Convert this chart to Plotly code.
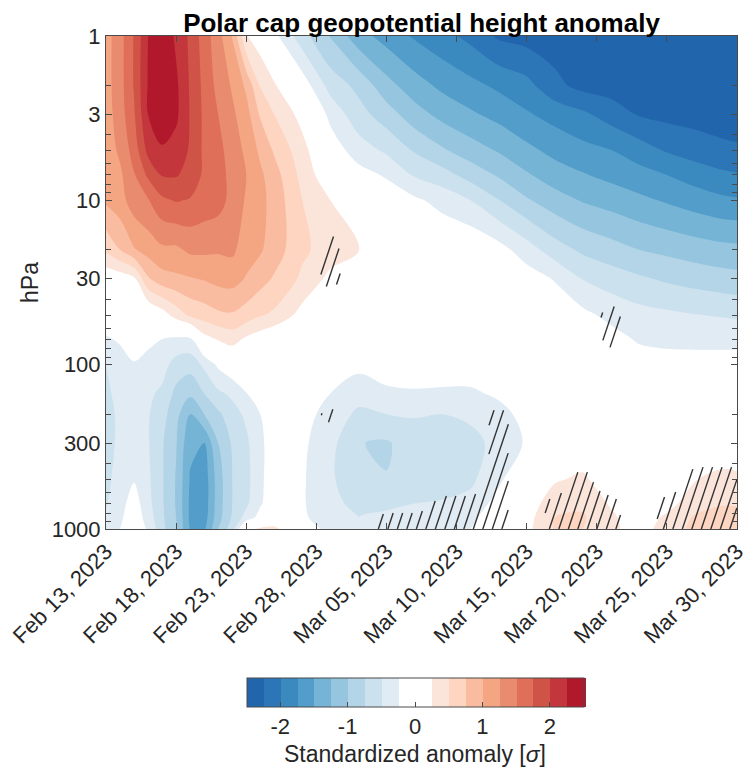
import numpy as np
import plotly.graph_objects as go
from datetime import datetime, timedelta

# ---------------- data ----------------
start_date = datetime(2023, 2, 13)
day_offsets = [0, 1, 2, 3, 4, 5, 6, 7, 8, 9, 10, 11, 12, 14, 16, 18, 20, 22,
               24, 26, 28, 30, 32, 34, 36, 38, 40, 42, 44, 45]
pressure_hpa = [1, 2, 3, 5, 7, 10, 20, 30, 50, 70, 100, 150, 200, 300, 500, 700, 850, 1000]

# standardized anomaly per day, listed from 1 hPa down to 1000 hPa
feb13 = [1.15, 1.15, 1.13, 1.10, 1.07, 1.05, 0.55, 0.05, -0.10, -0.28, -0.50, -0.55, -0.58, -0.58, -0.56, -0.52, -0.45, -0.40]
feb14 = [1.40, 1.40, 1.38, 1.30, 1.20, 1.15, 0.75, 0.10, -0.08, -0.22, -0.35, -0.42, -0.45, -0.45, -0.40, -0.35, -0.30, -0.25]
feb15 = [1.77, 1.77, 1.72, 1.60, 1.48, 1.38, 0.98, 0.20, 0.00, -0.12, -0.27, -0.35, -0.42, -0.40, -0.27, -0.12, -0.08, -0.08]
feb16 = [2.25, 2.27, 2.25, 2.07, 1.80, 1.48, 1.10, 0.72, -0.05, -0.20, -0.32, -0.45, -0.48, -0.48, -0.45, -0.42, -0.36, -0.28]
feb17 = [2.45, 2.45, 2.40, 2.22, 2.02, 1.70, 1.20, 0.90, 0.12, -0.25, -0.40, -0.55, -0.65, -0.72, -0.72, -0.72, -0.70, -0.68]
feb18 = [2.20, 2.30, 2.30, 2.15, 2.02, 1.77, 1.20, 0.95, 0.35, -0.30, -0.60, -0.82, -0.92, -0.98, -1.02, -1.02, -1.00, -0.98]
feb19 = [1.95, 1.97, 1.98, 1.97, 1.92, 1.73, 1.30, 0.98, 0.55, -0.30, -0.65, -0.95, -1.25, -1.45, -1.52, -1.55, -1.55, -1.52]
feb20 = [1.63, 1.68, 1.70, 1.70, 1.70, 1.65, 1.30, 1.02, 0.62, 0.15, -0.45, -0.75, -1.00, -1.50, -1.65, -1.65, -1.62, -1.55]
feb21 = [1.35, 1.42, 1.50, 1.58, 1.60, 1.60, 1.28, 1.08, 0.70, 0.27, -0.20, -0.55, -0.80, -1.00, -1.12, -1.12, -1.10, -1.00]
feb22 = [0.98, 1.22, 1.30, 1.38, 1.42, 1.42, 1.30, 1.10, 0.72, 0.35, -0.05, -0.45, -0.60, -0.72, -0.75, -0.75, -0.72, -0.60]
feb23 = [0.27, 0.95, 1.10, 1.20, 1.25, 1.22, 1.12, 0.98, 0.63, 0.20, -0.05, -0.26, -0.45, -0.55, -0.58, -0.55, -0.40, 0.15]
feb24 = [0.10, 0.48, 0.72, 0.95, 1.05, 1.08, 1.03, 0.85, 0.52, 0.10, 0.00, -0.12, -0.25, -0.30, -0.30, -0.28, -0.15, 0.30]
feb25 = [-0.18, 0.28, 0.50, 0.72, 0.85, 0.90, 0.88, 0.72, 0.45, 0.00, 0.00, 0.00, -0.10, -0.12, -0.10, -0.08, 0.00, 0.32]
feb27 = [-0.65, -0.10, 0.15, 0.35, 0.42, 0.50, 0.55, 0.45, 0.15, -0.02, 0.00, -0.05, -0.15, -0.20, -0.22, -0.22, -0.20, -0.05]
mar01 = [-1.02, -0.60, -0.32, -0.10, 0.05, 0.25, 0.38, 0.18, -0.02, -0.05, -0.10, -0.25, -0.35, -0.42, -0.45, -0.45, -0.42, -0.35]
mar03 = [-1.40, -0.82, -0.65, -0.37, -0.15, -0.02, 0.27, 0.05, -0.02, -0.05, -0.18, -0.40, -0.55, -0.74, -0.72, -0.55, -0.50, -0.50]
mar05 = [-1.60, -1.16, -0.88, -0.54, -0.28, -0.10, 0.05, 0.00, -0.02, -0.03, -0.12, -0.30, -0.50, -0.78, -0.74, -0.55, -0.45, -0.40]
mar07 = [-1.78, -1.39, -1.14, -0.77, -0.53, -0.20, -0.05, 0.00, 0.00, -0.02, -0.10, -0.28, -0.48, -0.62, -0.60, -0.50, -0.40, -0.35]
mar09 = [-1.92, -1.56, -1.33, -0.96, -0.65, -0.34, 0.00, 0.00, 0.00, -0.02, -0.08, -0.30, -0.50, -0.62, -0.60, -0.48, -0.38, -0.32]
mar11 = [-2.07, -1.68, -1.46, -1.13, -0.85, -0.50, -0.02, -0.02, 0.00, -0.02, -0.08, -0.30, -0.45, -0.58, -0.55, -0.42, -0.32, -0.25]
mar13 = [-2.29, -1.80, -1.58, -1.27, -1.03, -0.74, -0.15, -0.02, 0.00, -0.02, -0.05, -0.20, -0.35, -0.42, -0.30, -0.15, -0.05, 0.00]
mar15 = [-2.35, -1.92, -1.72, -1.43, -1.22, -0.97, -0.38, -0.12, -0.02, -0.02, -0.03, -0.10, -0.15, -0.22, 0.00, 0.10, 0.15, 0.18]
mar17 = [-2.38, -2.18, -1.84, -1.57, -1.38, -1.14, -0.63, -0.27, -0.05, -0.02, -0.03, -0.02, 0.00, 0.00, 0.22, 0.40, 0.50, 0.52]
mar19 = [-2.40, -2.33, -1.95, -1.67, -1.48, -1.27, -0.80, -0.51, -0.18, -0.05, -0.03, -0.02, 0.00, 0.05, 0.30, 0.45, 0.53, 0.50]
mar21 = [-2.42, -2.37, -2.11, -1.74, -1.57, -1.35, -0.90, -0.62, -0.32, -0.15, -0.08, -0.03, 0.00, 0.00, 0.08, 0.22, 0.30, 0.30]
mar23 = [-2.44, -2.37, -2.27, -1.87, -1.66, -1.44, -1.00, -0.71, -0.41, -0.28, -0.12, -0.05, -0.02, 0.00, 0.00, 0.05, 0.10, 0.15]
mar25 = [-2.45, -2.39, -2.32, -2.02, -1.75, -1.53, -1.06, -0.79, -0.45, -0.31, -0.15, -0.08, -0.03, 0.00, 0.05, 0.15, 0.30, 0.35]
mar27 = [-2.46, -2.41, -2.35, -2.11, -1.86, -1.62, -1.12, -0.85, -0.49, -0.32, -0.15, -0.07, -0.03, 0.05, 0.24, 0.40, 0.53, 0.58]
mar29 = [-2.47, -2.43, -2.37, -2.19, -1.95, -1.70, -1.17, -0.90, -0.52, -0.32, -0.15, -0.07, -0.02, 0.08, 0.32, 0.48, 0.60, 0.65]
mar30 = [-2.47, -2.43, -2.38, -2.21, -1.98, -1.72, -1.18, -0.92, -0.54, -0.32, -0.15, -0.07, -0.02, 0.08, 0.30, 0.48, 0.58, 0.60]

# grid nodes (day offset, hPa) where the anomaly is significant (hatched)
significant_points = [
    (16, 20), (16, 30), (36, 50), (36, 70), (16, 200),
    (28, 200), (28, 300), (28, 500), (28, 700), (28, 850), (28, 1000),
    (20, 850), (20, 1000), (22, 850), (22, 1000),
    (24, 700), (24, 850), (24, 1000), (26, 700), (26, 850), (26, 1000),
    (32, 700), (32, 850), (32, 1000), (34, 500), (34, 700), (34, 850), (34, 1000),
    (36, 700), (36, 850), (36, 1000),
    (40, 700), (40, 850), (40, 1000), (42, 500), (42, 700), (42, 850), (42, 1000),
    (44, 500), (44, 700), (44, 850), (44, 1000), (45, 500), (45, 700), (45, 850), (45, 1000),
]

colorbar_ticks = [-2, -1, 0, 1, 2]
colorbar_ticktext = ['-2', '-1', '0', '1', '2']
x_tick_days = [0, 5, 10, 15, 20, 25, 30, 35, 40, 45]
y_tick_hpa = [1, 3, 10, 30, 100, 300, 1000]
y_minor_hpa = [2, 4, 5, 6, 7, 8, 9, 20, 40, 50, 60, 70, 80, 90, 200, 400, 500, 600, 700, 800, 900]

# ---------------- build ----------------
columns = [feb13, feb14, feb15, feb16, feb17, feb18, feb19, feb20, feb21, feb22, feb23,
           feb24, feb25, feb27, mar01, mar03, mar05, mar07, mar09, mar11, mar13, mar15,
           mar17, mar19, mar21, mar23, mar25, mar27, mar29, mar30]
z = np.array(columns).T
x_dates = [start_date + timedelta(days=d) for d in day_offsets]

band_colors = ['#2166ac', '#2c75b6', '#3a8ac0', '#529dc9', '#76b4d5', '#96c6df',
               '#b3d5e7', '#cce1ee', '#e0ebf3', '#ffffff', '#ffffff', '#fbe5da',
               '#fdd5c1', '#f9bca0', '#f4a582', '#e98b6e', '#df6f59', '#d05347',
               '#c2363c', '#b2182b']
def _bpos(k):
    sa = lambda j: (j + 1) / 21.0
    sb = lambda j: (j + 0.5) / 20.0
    return (sa(k) + sa(k + 1) + sb(k) + sb(k + 1)) / 4.0
colorscale = [[0.0, band_colors[0]]]
for k in range(len(band_colors) - 1):
    b = _bpos(k)
    colorscale.append([b, band_colors[k]])
    colorscale.append([b, band_colors[k + 1]])
colorscale.append([1.0, band_colors[-1]])

FONT = 'Liberation Sans, Arial, Helvetica, sans-serif'
AXC = '#4a4a4a'
TXC = '#262626'

# figure sized so that, with the page's 8px body offset, the plot lands on the reference pixels
FIG_W, FIG_H = 746, 770
PLOT_W, PLOT_H = 631.0, 494.0
M_L, M_T = 98, 28

fig = go.Figure()
fig.add_trace(go.Contour(
    x=x_dates, y=pressure_hpa, z=z,
    autocontour=False,
    contours=dict(start=-2.5, end=2.5, size=0.25, coloring='fill', showlines=False),
    colorscale=colorscale, zmin=-2.5, zmax=2.5,
    line=dict(width=0),
    hoverinfo='skip',
    colorbar=dict(
        orientation='h', x=0.4897, xanchor='center', y=-0.2996, yanchor='top',
        len=337 / 631, lenmode='fraction', thickness=29, xpad=0, ypad=0,
        outlinewidth=1, outlinecolor=AXC,
        ticks='inside', ticklen=5, tickcolor=AXC,
        tickvals=colorbar_ticks, ticktext=colorbar_ticktext,
        tickfont=dict(family=FONT, size=22, color=TXC),
        title=dict(text='Standardized anomaly [<i>σ</i>]', side='bottom',
                   font=dict(family=FONT, size=23, color=TXC)),
    ),
))

# hatching derived from the significance mask
mask = np.zeros(z.shape)
for d, p in significant_points:
    mask[pressure_hpa.index(p), day_offsets.index(d)] = 1.0
D = np.array(day_offsets, float)
LP = np.log10(np.array(pressure_hpa, float))
ci = np.arange(len(D))
ri = np.arange(len(LP))

def mask_value(d, lp):
    fc = np.interp(d, D, ci)
    fr = np.interp(lp, LP, ri)
    c0 = int(min(np.floor(fc), len(D) - 2))
    r0 = int(min(np.floor(fr), len(LP) - 2))
    tc = fc - c0
    tr = fr - r0
    return (mask[r0, c0] * (1 - tc) * (1 - tr) + mask[r0, c0 + 1] * tc * (1 - tr)
            + mask[r0 + 1, c0] * (1 - tc) * tr + mask[r0 + 1, c0 + 1] * tc * tr)

spacing, slope = 9.5, 3.0
total_days = 45.0
hx, hy = [], []

def flush(run):
    if len(run) >= 2:
        for (dd, ll) in (run[0], run[-1]):
            hx.append(start_date + timedelta(days=float(dd)))
            hy.append(10 ** ll)
        hx.append(None)
        hy.append(None)

c = 0.0
while c < PLOT_W + PLOT_H / slope:
    run = []
    for Y in np.arange(0.0, PLOT_H + 0.01, 1.0):
        X = c - Y / slope
        ok = False
        if 0 <= X <= PLOT_W:
            d = X / PLOT_W * total_days
            lp = Y / PLOT_H * 3.0
            ok = mask_value(d, lp) >= 0.65
        if ok:
            run.append((d, lp))
        else:
            flush(run)
            run = []
    flush(run)
    c += spacing

fig.add_trace(go.Scatter(x=hx, y=hy, mode='lines', line=dict(color='#333333', width=1.4),
                         hoverinfo='skip', showlegend=False, yaxis='y2'))

fig.update_layout(
    width=FIG_W, height=FIG_H,
    margin=dict(l=M_L, r=FIG_W - M_L - int(PLOT_W), t=M_T, b=FIG_H - M_T - int(PLOT_H)),
    paper_bgcolor='white', plot_bgcolor='white',
    font=dict(family=FONT, size=22, color=TXC),
    title=dict(text='<b>Polar cap geopotential height anomaly</b>', x=0.5, xref='paper',
               xanchor='center', y=1 - 6 / FIG_H, yref='container', yanchor='top',
               pad=dict(t=0, b=0, l=0, r=0),
               font=dict(family=FONT, size=26, color='#000000')),
    showlegend=False,
    xaxis=dict(
        type='date', automargin=False, ticklabeloverflow='allow',
        range=[start_date, start_date + timedelta(days=45)],
        tickvals=[start_date + timedelta(days=d) for d in x_tick_days],
        tickformat='%b %d, %Y', tickangle=-45,
        ticks='inside', ticklen=6, tickcolor=AXC, tickwidth=1,
        showline=True, linecolor=AXC, linewidth=1, mirror='ticks',
        showgrid=False, zeroline=False,
        tickfont=dict(family=FONT, size=22, color=TXC),
    ),
    yaxis=dict(
        type='log', range=[3, 0], automargin=False, ticklabeloverflow='allow',
        tickvals=y_tick_hpa, ticktext=[str(v) for v in y_tick_hpa],
        ticks='inside', ticklen=6, tickcolor=AXC, tickwidth=1,
        showline=True, linecolor=AXC, linewidth=1, mirror='ticks',
        showgrid=False, zeroline=False,
        tickfont=dict(family=FONT, size=22, color=TXC),
        title=dict(text='hPa', standoff=6, font=dict(family=FONT, size=23, color=TXC)),
    ),
    yaxis2=dict(
        type='log', range=[3, 0], overlaying='y', side='left', anchor='x', automargin=False,
        tickvals=y_minor_hpa, showticklabels=False,
        ticks='inside', ticklen=5, tickcolor=AXC, tickwidth=1,
        showline=True, linecolor=AXC, linewidth=1, mirror='ticks',
        showgrid=False, zeroline=False,
    ),
)

fig.write_html('out.html')
